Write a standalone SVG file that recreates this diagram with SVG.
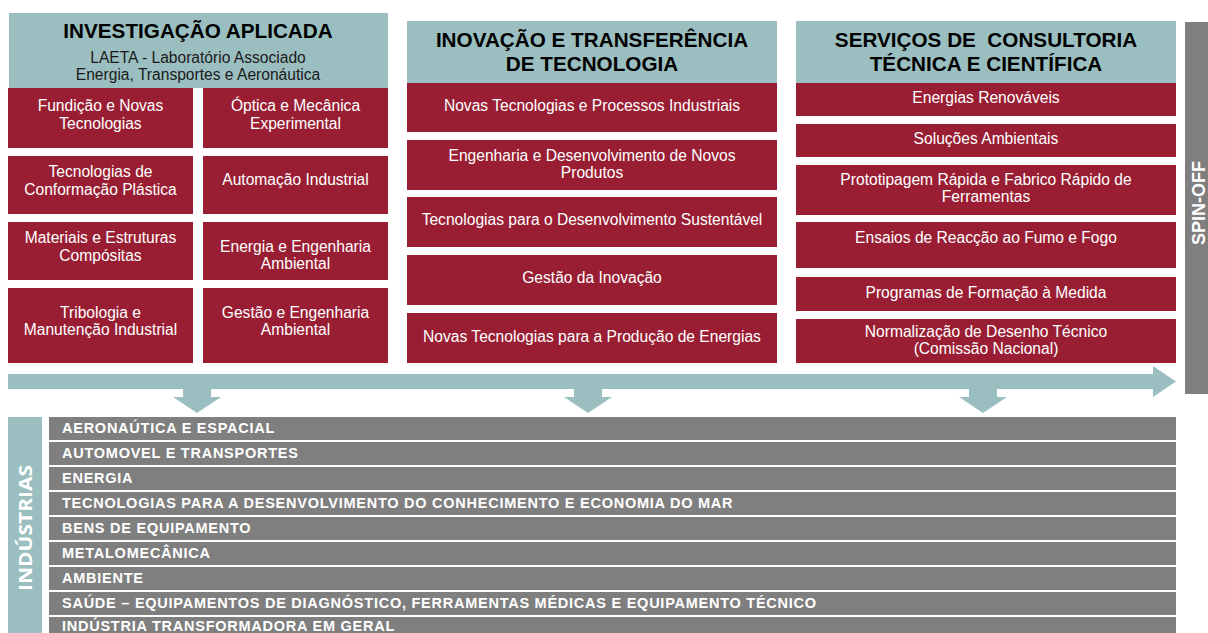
<svg xmlns="http://www.w3.org/2000/svg" width="1208" height="633" viewBox="0 0 1208 633">
<style>
.hd{fill:#9BBFC0}
.rb{fill:#991E33}
.gb{fill:#7F7F7F}
.t{font-family:"Liberation Sans",Arial,sans-serif;font-size:15.6px;fill:#FFFFFF;text-anchor:middle}
.h{font-family:"Liberation Sans",Arial,sans-serif;font-size:20.7px;font-weight:bold;fill:#000000;text-anchor:middle}
.hs{font-family:"Liberation Sans",Arial,sans-serif;font-size:15.6px;fill:#1a1a1a;text-anchor:middle}
.g{font-family:"Liberation Sans",Arial,sans-serif;font-size:14.5px;font-weight:bold;fill:#FFFFFF;letter-spacing:0.75px}
.v{font-family:"Liberation Sans",Arial,sans-serif;font-size:18px;font-weight:bold;fill:#FFFFFF;text-anchor:middle}
.vi{font-family:"Open Sans","Liberation Sans",sans-serif;font-size:18px;font-weight:bold;fill:#FFFFFF;text-anchor:middle}
.arr{fill:#9BBFC0}
</style>
<rect width="1208" height="633" fill="#FFFFFF"/>

<g id="investigacao">
<rect class="hd" x="9" y="13" width="379" height="75"/>
<text class="h" x="198" y="38">INVESTIGAÇÃO APLICADA</text>
<text class="hs" x="198" y="63">LAETA - Laboratório Associado</text>
<text class="hs" x="198" y="80">Energia, Transportes e Aeronáutica</text>
</g>
<g id="ia-fundicao"><rect class="rb" x="8" y="88" width="185" height="60"/><text class="t" x="100.5" y="111">Fundição e Novas</text><text class="t" x="100.5" y="129">Tecnologias</text></g>
<g id="ia-optica"><rect class="rb" x="203" y="88" width="185" height="60"/><text class="t" x="295.5" y="111">Óptica e Mecânica</text><text class="t" x="295.5" y="129">Experimental</text></g>
<g id="ia-conformacao"><rect class="rb" x="8" y="156" width="185" height="58"/><text class="t" x="100.5" y="177">Tecnologias de</text><text class="t" x="100.5" y="195">Conformação Plástica</text></g>
<g id="ia-automacao"><rect class="rb" x="203" y="156" width="185" height="58"/><text class="t" x="295.5" y="185">Automação Industrial</text></g>
<g id="ia-materiais"><rect class="rb" x="8" y="222" width="185" height="58"/><text class="t" x="100.5" y="243">Materiais e Estruturas</text><text class="t" x="100.5" y="261">Compósitas</text></g>
<g id="ia-energia"><rect class="rb" x="203" y="222" width="185" height="58"/><text class="t" x="295.5" y="252">Energia e Engenharia</text><text class="t" x="295.5" y="269">Ambiental</text></g>
<g id="ia-tribologia"><rect class="rb" x="8" y="288" width="185" height="75"/><text class="t" x="100.5" y="318">Tribologia e</text><text class="t" x="100.5" y="335">Manutenção Industrial</text></g>
<g id="ia-gestao"><rect class="rb" x="203" y="288" width="185" height="75"/><text class="t" x="295.5" y="318">Gestão e Engenharia</text><text class="t" x="295.5" y="335">Ambiental</text></g>

<g id="inovacao">
<rect class="hd" x="407" y="21" width="370" height="62"/>
<text class="h" x="592" y="47">INOVAÇÃO E TRANSFERÊNCIA</text>
<text class="h" x="592" y="71">DE TECNOLOGIA</text>
</g>
<g id="it-novas"><rect class="rb" x="407" y="83" width="370" height="49"/><text class="t" x="592" y="111">Novas Tecnologias e Processos Industriais</text></g>
<g id="it-engenharia"><rect class="rb" x="407" y="140" width="370" height="50"/><text class="t" x="592" y="161">Engenharia e Desenvolvimento de Novos</text><text class="t" x="592" y="178">Produtos</text></g>
<g id="it-sustentavel"><rect class="rb" x="407" y="197" width="370" height="50"/><text class="t" x="592" y="225">Tecnologias para o Desenvolvimento Sustentável</text></g>
<g id="it-gestao"><rect class="rb" x="407" y="255" width="370" height="50"/><text class="t" x="592" y="283">Gestão da Inovação</text></g>
<g id="it-energias"><rect class="rb" x="407" y="313" width="370" height="50"/><text class="t" x="592" y="342">Novas Tecnologias para a Produção de Energias</text></g>

<g id="servicos">
<rect class="hd" x="796" y="21" width="380" height="62"/>
<text class="h" x="986" y="47" xml:space="preserve">SERVIÇOS DE  CONSULTORIA</text>
<text class="h" x="986" y="71">TÉCNICA E CIENTÍFICA</text>
</g>
<g id="sc-renovaveis"><rect class="rb" x="796" y="83" width="380" height="33"/><text class="t" x="986" y="103">Energias Renováveis</text></g>
<g id="sc-ambientais"><rect class="rb" x="796" y="124" width="380" height="33"/><text class="t" x="986" y="144">Soluções Ambientais</text></g>
<g id="sc-prototipagem"><rect class="rb" x="796" y="165" width="380" height="50"/><text class="t" x="986" y="185">Prototipagem Rápida e Fabrico Rápido de</text><text class="t" x="986" y="202">Ferramentas</text></g>
<g id="sc-ensaios"><rect class="rb" x="796" y="222" width="380" height="46"/><text class="t" x="986" y="243">Ensaios de Reacção ao Fumo e Fogo</text></g>
<g id="sc-formacao"><rect class="rb" x="796" y="277" width="380" height="34"/><text class="t" x="986" y="298">Programas de Formação à Medida</text></g>
<g id="sc-normalizacao"><rect class="rb" x="796" y="319" width="380" height="44"/><text class="t" x="986" y="337">Normalização de Desenho Técnico</text><text class="t" x="986" y="354">(Comissão Nacional)</text></g>

<g id="spin-off">
<rect class="gb" x="1185" y="22" width="23" height="372"/>
<text class="v" transform="translate(1205,203) rotate(-90)">SPIN-OFF</text>
</g>

<g id="connectors">
<path class="arr" d="M8,374 H1153 V366 L1176,381.5 L1153,397 V389 H8 Z"/>
<path class="arr" d="M183,389 H211 V397 H221 L197,413 L173,397 H183 Z"/>
<path class="arr" d="M574,389 H602 V397 H612 L588,413 L564,397 H574 Z"/>
<path class="arr" d="M969,389 H997 V397 H1007 L983,413 L959,397 H969 Z"/>
</g>

<g id="industrias">
<rect class="hd" x="8" y="417" width="34" height="216"/>
<text class="vi" transform="translate(32,528) rotate(-90)" textLength="126" lengthAdjust="spacingAndGlyphs">INDÚSTRIAS</text>
</g>
<g id="ind-aeronautica"><rect class="gb" x="49" y="417" width="1127" height="23"/><text class="g" x="62" y="433">AERONAÚTICA E ESPACIAL</text></g>
<g id="ind-automovel"><rect class="gb" x="49" y="442" width="1127" height="23"/><text class="g" x="62" y="458">AUTOMOVEL E TRANSPORTES</text></g>
<g id="ind-energia"><rect class="gb" x="49" y="467" width="1127" height="23"/><text class="g" x="62" y="483">ENERGIA</text></g>
<g id="ind-mar"><rect class="gb" x="49" y="492" width="1127" height="23"/><text class="g" x="62" y="508">TECNOLOGIAS PARA A DESENVOLVIMENTO DO CONHECIMENTO E ECONOMIA DO MAR</text></g>
<g id="ind-bens"><rect class="gb" x="49" y="517" width="1127" height="23"/><text class="g" x="62" y="533">BENS DE EQUIPAMENTO</text></g>
<g id="ind-metalomecanica"><rect class="gb" x="49" y="542" width="1127" height="23"/><text class="g" x="62" y="558">METALOMECÂNICA</text></g>
<g id="ind-ambiente"><rect class="gb" x="49" y="567" width="1127" height="23"/><text class="g" x="62" y="583">AMBIENTE</text></g>
<g id="ind-saude"><rect class="gb" x="49" y="592" width="1127" height="23"/><text class="g" x="62" y="608">SAÚDE – EQUIPAMENTOS DE DIAGNÓSTICO, FERRAMENTAS MÉDICAS E EQUIPAMENTO TÉCNICO</text></g>
<g id="ind-geral"><rect class="gb" x="49" y="617" width="1127" height="23"/><text class="g" x="62" y="631">INDÚSTRIA TRANSFORMADORA EM GERAL</text></g>
</svg>
